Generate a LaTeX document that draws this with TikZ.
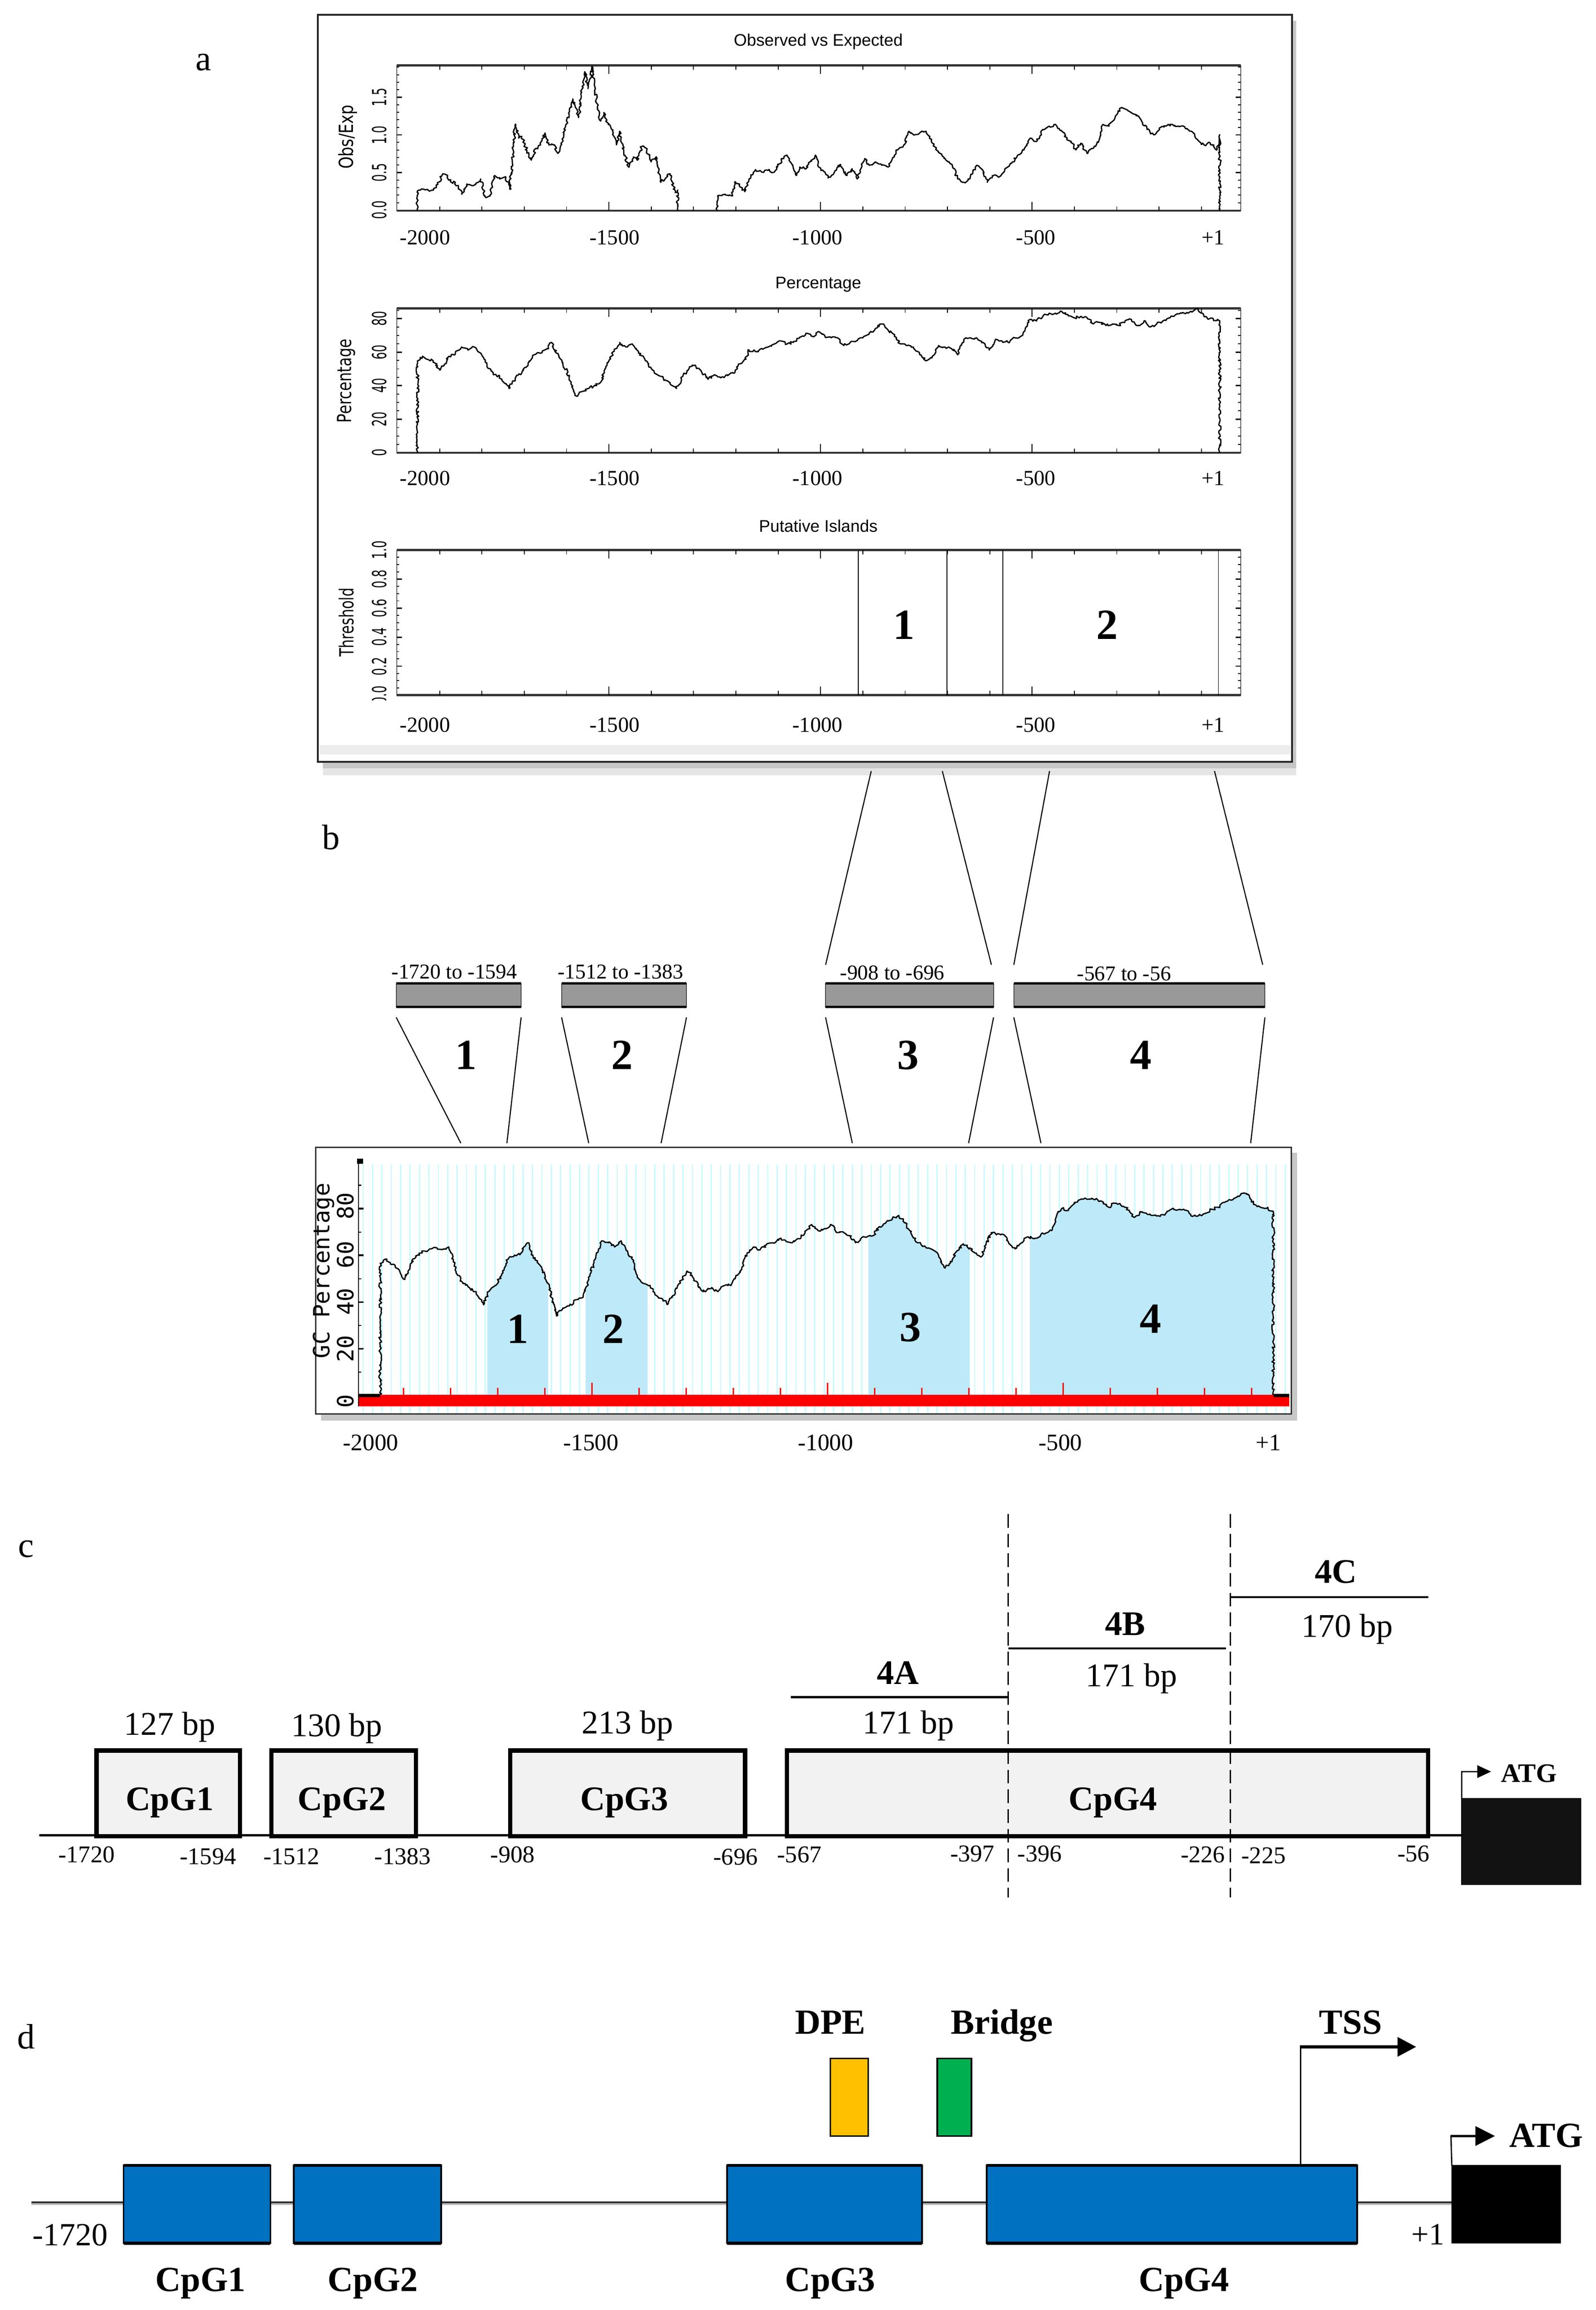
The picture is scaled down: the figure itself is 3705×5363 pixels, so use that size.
\documentclass[tikz,border=0pt]{standalone}
\usepackage{fontspec}
\setmainfont{Liberation Serif}
\setsansfont{Liberation Sans}
\newfontfamily\monofont{DejaVu Sans Mono}
\newfontfamily\dvsans{DejaVu Sans}
\usetikzlibrary{decorations.pathmorphing}
\newcommand\fpx[1]{\fontsize{\fpeval{#1*0.2845}pt}{\fpeval{#1*0.34}pt}\selectfont}
\def\u{0.2845pt}
\definecolor{cpgblue}{RGB}{0,112,192}
\definecolor{dpecol}{RGB}{255,192,0}
\definecolor{bridgecol}{RGB}{0,176,80}
\definecolor{islandfill}{RGB}{189,233,249}
\definecolor{cyanl}{RGB}{200,250,255}
\definecolor{boxgray}{RGB}{242,242,242}
\definecolor{bargray}{RGB}{153,153,153}
\pgfmathsetseed{7}
\tikzset{
  every node/.style={inner sep=0pt, outer sep=0pt},
  curvestyle/.style={line width=3*\u, line join=round, decorate, decoration={random steps, segment length=1.1pt, amplitude=0.9pt}},
  ticklabA/.style={anchor=base, font=\fpx{50}},
  ticklabB/.style={anchor=base, font=\fpx{55}},
  ylabA/.style={rotate=90, font=\dvsans\fpx{45}},
  titleA/.style={anchor=base, font=\sffamily\fpx{39}},
  bignum/.style={anchor=base, font=\bfseries\fpx{100}},
  panellab/.style={anchor=base, font=\fpx{82}},
  ccbox/.style={draw=black, fill=boxgray, line width=10*\u, minimum height=19.9mm},
  cbold/.style={anchor=base, font=\bfseries\fpx{80}},
  creg/.style={anchor=base, font=\fpx{77}},
  cpos/.style={anchor=base, font=\fpx{56}},
  dbox/.style={draw=black, fill=cpgblue, line width=4*\u, minimum height=18.1mm},
  dbold/.style={anchor=base, font=\bfseries\fpx{82}},
  graybar/.style={draw=black!70, fill=bargray, line width=2*\u, minimum height=5.5mm},
  barlab/.style={anchor=base, font=\fpx{49}},
  thinline/.style={line width=2.5*\u},
}
\begin{document}
\begin{tikzpicture}[x=0.1mm, y=-0.1mm]
\useasboundingbox (0,0) rectangle (3705,5363);
\fill[white] (0,0) rectangle (3705,5363);

% ================= panel a =================
\node[panellab] (la) at (472,164) {a};
\fill[black!22] (750,1769) rectangle (3010,1784);
\fill[black!10] (750,1784) rectangle (3010,1800);
\fill[black!22] (3000,48) rectangle (3010,1784);
\fill[black!7] (742,1730) rectangle (2996,1752);
\draw[line width=4*\u, black!85] (738,34) rectangle (3000,1769);

% plot frames
\foreach \yt/\yb in {152/489, 716/1051, 1277/1614} {
  \draw[line width=2*\u, black!60] (921,\yt) rectangle (2881,\yb);
  \draw[line width=5*\u, black!80] (921,\yt) -- (2881,\yt);
  \draw[line width=5*\u, black!80] (921,\yb) -- (2881,\yb);
  \foreach \k in {0,...,18} {
    \draw[line width=2*\u] ({1020.7+98.27*\k},\yt) -- ++(0,10);
    \draw[line width=2*\u] ({1020.7+98.27*\k},\yb) -- ++(0,-10);
  }
  \foreach \xx in {1413.8,1905,2396.5} {
    \draw[line width=2*\u] (\xx,\yt) -- ++(0,20);
    \draw[line width=2*\u] (\xx,\yb) -- ++(0,-20);
  }
}
% y ticks
\foreach \v in {1,...,19} {
  \draw[line width=2*\u] (921,{488-17.48*\v}) -- ++(6,0);
  \draw[line width=2*\u] (2881,{488-17.48*\v}) -- ++(-6,0);
}
\foreach \v in {5,10,15} {
  \draw[line width=3*\u] (921,{488-17.48*\v}) -- ++(12,0);
  \draw[line width=3*\u] (2881,{488-17.48*\v}) -- ++(-12,0);
}
\foreach \v in {1,...,17} {
  \draw[line width=2*\u] (921,{1051-19.45*\v}) -- ++(6,0);
  \draw[line width=2*\u] (2881,{1051-19.45*\v}) -- ++(-6,0);
}
\foreach \v in {4,8,12,16} {
  \draw[line width=3*\u] (921,{1051-19.45*\v}) -- ++(12,0);
  \draw[line width=3*\u] (2881,{1051-19.45*\v}) -- ++(-12,0);
}
\foreach \v in {1,...,19} {
  \draw[line width=2*\u] (921,{1614-16.85*\v}) -- ++(6,0);
  \draw[line width=2*\u] (2881,{1614-16.85*\v}) -- ++(-6,0);
}
\foreach \v in {4,8,12,16} {
  \draw[line width=3*\u] (921,{1614-16.85*\v}) -- ++(12,0);
  \draw[line width=3*\u] (2881,{1614-16.85*\v}) -- ++(-12,0);
}

% titles
\node[titleA] (t1) at (1900,107) {Observed vs Expected};
\node[titleA] (t2) at (1900,670) {Percentage};
\node[titleA] (t3) at (1900,1235) {Putative Islands};

% x tick labels
\foreach \lab/\xx [count=\i] in {-2000/987, -1500/1427, -1000/1898, -500/2405, +1/2817} {
  \node[ticklabA] (xa\i) at (\xx,568) {\lab};
  \node[ticklabA] (xb\i) at (\xx,1127) {\lab};
  \node[ticklabA] (xc\i) at (\xx,1700) {\lab};
}
% y labels
\node[ylabA] (yl1) at (808,318) {\scalebox{0.8}[1]{Obs/Exp}};
\node[ylabA] (yl2) at (804,884) {\scalebox{0.77}[1]{Percentage}};
\node[ylabA] (yl3) at (804,1445) {\scalebox{0.72}[1]{Threshold}};
\begin{scope}
  \clip (850,140) rectangle (915,508);
  \foreach \lab/\yy [count=\i] in {1.5/226, 1.0/314, 0.5/401, 0.0/488}
    \node[ylabA] (ya\i) at (881,\yy) {\scalebox{0.6}[1]{\lab}};
\end{scope}
\begin{scope}
  \clip (850,700) rectangle (915,1058);
  \foreach \lab/\yy [count=\i] in {80/740, 60/818, 40/895, 20/973, 0/1051}
    \node[ylabA] (yb\i) at (881,\yy) {\scalebox{0.6}[1]{\lab}};
\end{scope}
\begin{scope}
  \clip (850,1230) rectangle (915,1625);
  \foreach \lab/\yy [count=\i] in {1.0/1277, 0.8/1344, 0.6/1412, 0.4/1479, 0.2/1547, 0.0/1614}
    \node[ylabA] (yc\i) at (881,\yy) {\scalebox{0.6}[1]{\lab}};
\end{scope}

% Obs/Exp curve
\begin{scope}[shift={(720,20)}, xscale=1.4668, yscale=0.3954]
\draw[curvestyle] (170,1187) -- (170,1070) -- (175,1065) -- (190,1070) -- (200,1050) -- (210,970) -- (215,975) -- (222,1015) -- (230,1020) -- (240,1090) -- (248,1030) -- (258,1040) -- (270,1000) -- (278,1110) -- (285,1100) -- (292,980) -- (300,1000) -- (310,990) -- (316,1060) -- (320,900) -- (325,680) -- (330,760) -- (335,750) -- (343,830) -- (350,890) -- (358,820) -- (365,800) -- (372,730) -- (378,800) -- (385,800) -- (392,850) -- (400,780) -- (405,680) -- (410,620) -- (416,530) -- (420,580) -- (425,640) -- (430,490) -- (435,370) -- (440,470) -- (447,340) -- (450,450) -- (455,590) -- (460,660) -- (465,610) -- (472,680) -- (480,730) -- (485,800) -- (490,720) -- (498,860) -- (505,930) -- (512,870) -- (518,890) -- (525,810) -- (533,830) -- (540,900) -- (548,870) -- (555,1020) -- (565,980) -- (570,970) -- (578,1080) -- (582,1065) -- (582,1187);
\draw[curvestyle] (645,1187) -- (645,1100) -- (660,1095) -- (668,1100) -- (672,1020) -- (680,1030) -- (688,1075) -- (695,1000) -- (705,945) -- (715,960) -- (725,950) -- (735,960) -- (740,930) -- (750,870) -- (755,860) -- (760,900) -- (770,980) -- (775,930) -- (785,940) -- (800,860) -- (805,930) -- (815,960) -- (820,995) -- (830,960) -- (840,915) -- (850,980) -- (858,940) -- (866,1000) -- (878,880) -- (885,920) -- (895,900) -- (905,920) -- (915,930) -- (925,870) -- (930,830) -- (940,800) -- (948,720) -- (955,740) -- (965,730) -- (975,720) -- (985,790) -- (995,840) -- (1005,880) -- (1010,900) -- (1020,940) -- (1025,1000) -- (1035,1020) -- (1045,990) -- (1055,920) -- (1065,950) -- (1072,1020) -- (1080,980) -- (1090,990) -- (1100,940) -- (1110,910) -- (1120,860) -- (1130,830) -- (1140,760) -- (1150,780) -- (1160,710) -- (1170,690) -- (1180,680) -- (1190,720) -- (1198,770) -- (1205,780) -- (1212,830) -- (1220,790) -- (1230,850) -- (1240,820) -- (1250,760) -- (1255,680) -- (1265,690) -- (1275,630) -- (1285,580) -- (1295,600) -- (1305,620) -- (1315,650) -- (1325,710) -- (1335,740) -- (1345,700) -- (1355,690) -- (1365,680) -- (1375,690) -- (1385,700) -- (1395,720) -- (1405,770) -- (1415,800) -- (1425,790) -- (1435,830) -- (1440,740) -- (1440,1187);
\end{scope}

% Percentage curve
\begin{scope}[shift={(720,620)}, xscale=1.4668, yscale=0.357]
\draw[curvestyle] (170,1208) -- (170,610) -- (178,580) -- (185,600) -- (195,610) -- (205,670) -- (212,640) -- (220,580) -- (230,560) -- (240,520) -- (250,540) -- (260,520) -- (270,560) -- (280,640) -- (290,700) -- (300,710) -- (315,790) -- (325,720) -- (335,690) -- (345,640) -- (355,570) -- (365,560) -- (375,530) -- (382,490) -- (390,560) -- (400,620) -- (410,720) -- (422,840) -- (430,810) -- (440,790) -- (450,770) -- (460,750) -- (470,640) -- (480,550) -- (490,490) -- (500,520) -- (510,500) -- (520,560) -- (530,600) -- (540,660) -- (550,700) -- (565,740) -- (580,790) -- (590,710) -- (600,660) -- (608,640) -- (618,670) -- (630,730) -- (640,700) -- (650,720) -- (660,700) -- (670,690) -- (680,630) -- (690,600) -- (695,540) -- (705,550) -- (715,530) -- (725,520) -- (735,500) -- (745,480) -- (755,500) -- (765,490) -- (775,460) -- (785,430) -- (795,450) -- (805,420) -- (815,450) -- (825,460) -- (835,460) -- (845,510) -- (855,490) -- (865,480) -- (875,460) -- (885,430) -- (895,400) -- (905,370) -- (915,410) -- (925,450) -- (935,500) -- (945,510) -- (955,520) -- (965,570) -- (975,610) -- (985,580) -- (995,510) -- (1005,520) -- (1015,530) -- (1025,570) -- (1035,470) -- (1045,460) -- (1055,460) -- (1065,490) -- (1075,540) -- (1085,470) -- (1095,480) -- (1105,490) -- (1115,460) -- (1125,450) -- (1132,400) -- (1140,340) -- (1150,350) -- (1160,320) -- (1170,300) -- (1180,300) -- (1190,290) -- (1200,310) -- (1210,330) -- (1220,320) -- (1230,330) -- (1240,370) -- (1250,360) -- (1260,380) -- (1270,370) -- (1280,380) -- (1290,350) -- (1300,340) -- (1310,380) -- (1320,350) -- (1330,390) -- (1340,370) -- (1350,350) -- (1360,330) -- (1370,310) -- (1380,300) -- (1390,300) -- (1400,280) -- (1405,270) -- (1412,300) -- (1420,330) -- (1430,340) -- (1440,350) -- (1440,1208);
\end{scope}

% Putative islands
\foreach \xx in {1993,2199,2329,2829}
  \draw[line width=2*\u] (\xx,1277) -- (\xx,1614);
\node[bignum] (isl1) at (2099,1484) {1};
\node[bignum] (isl2) at (2571,1484) {2};

% ================= panel b =================
\node[panellab] (lb) at (769,1972) {b};
\coordinate (ca1) at (2023,1790);
\coordinate (ca2) at (2188,1790);
\coordinate (ca3) at (2437,1790);
\coordinate (ca4) at (2820,1790);
\coordinate (cb1) at (1917,2240);
\coordinate (cb2) at (2302,2240);
\coordinate (cb3) at (2354,2240);
\coordinate (cb4) at (2932,2240);
\foreach \i in {1,...,4} \draw[thinline] (ca\i) -- (cb\i);

\node[graybar, minimum width=29mm] (bar1) at (1065,2310.5) {};
\node[graybar, minimum width=29mm] (bar2) at (1449,2310.5) {};
\node[graybar, minimum width=39mm] (bar3) at (2112,2310.5) {};
\node[graybar, minimum width=58.3mm] (bar4) at (2645.5,2310.5) {};
\foreach \b in {bar1,bar2,bar3,bar4} {
  \draw[line width=5*\u] (\b.north west) -- (\b.north east);
  \draw[line width=5*\u] (\b.south west) -- (\b.south east);
}
\node[barlab] (bl1) at (1055,2272) {-1720 to -1594};
\node[barlab] (bl2) at (1441,2272) {-1512 to -1383};
\node[barlab] (bl3) at (2072,2274) {-908 to -696};
\node[barlab] (bl4) at (2610,2277) {-567 to -56};

\node[bignum] (n1) at (1082,2483) {1};
\node[bignum] (n2) at (1445,2483) {2};
\node[bignum] (n3) at (2109,2483) {3};
\node[bignum] (n4) at (2649,2483) {4};

\foreach \xt/\xb in {920/1070, 1210/1177, 1304/1367, 1594/1535, 1917/1979, 2307/2249, 2354/2417, 2937/2904}
  \draw[thinline] (\xt,2362) -- (\xb,2654);

% GC plot box
\fill[black!22] (745,3283) rectangle (3012,3298);
\fill[black!22] (2998,2676) rectangle (3012,3298);
\fill[white] (733,2664) rectangle (2998,3283);
\foreach \i in {0,...,98}
  \draw[cyanl, line width=3*\u] ({843+21.85*\i},2704) -- ++(0,578);
\begin{scope}[shift={(700,2640)}, xscale=1.4993, yscale=0.4719]
  \begin{scope}
    \clip (288,0) rectangle (382,1270) (440,0) rectangle (536,1270) (878,0) rectangle (1035,1270) (1128,0) rectangle (1505,1270);
    \fill[islandfill] (122,1268) -- (122,620) -- (130,600) -- (138,625) -- (145,630) -- (155,680) -- (160,700) -- (165,660) -- (172,600) -- (180,580) -- (190,560) -- (200,550) -- (210,545) -- (220,550) -- (228,540) -- (235,600) -- (242,680) -- (250,720) -- (260,740) -- (270,760) -- (275,790) -- (282,825) -- (290,760) -- (295,740) -- (300,730) -- (310,680) -- (320,600) -- (330,580) -- (340,570) -- (350,520) -- (355,560) -- (362,600) -- (372,640) -- (382,720) -- (390,820) -- (395,880) -- (405,840) -- (415,830) -- (425,800) -- (435,790) -- (445,700) -- (455,600) -- (465,510) -- (475,520) -- (485,540) -- (495,510) -- (505,560) -- (512,600) -- (520,680) -- (530,720) -- (540,730) -- (550,780) -- (560,800) -- (568,820) -- (575,780) -- (585,720) -- (598,660) -- (605,680) -- (615,740) -- (625,760) -- (635,740) -- (645,760) -- (655,730) -- (665,730) -- (675,680) -- (682,640) -- (690,570) -- (700,540) -- (710,555) -- (720,530) -- (730,520) -- (740,500) -- (750,510) -- (760,520) -- (770,500) -- (780,470) -- (790,430) -- (800,460) -- (810,450) -- (820,430) -- (830,470) -- (840,470) -- (850,490) -- (858,520) -- (866,500) -- (876,490) -- (885,485) -- (895,440) -- (905,420) -- (915,400) -- (925,385) -- (935,420) -- (945,480) -- (955,520) -- (965,535) -- (975,550) -- (985,570) -- (995,640) -- (1005,620) -- (1015,560) -- (1025,525) -- (1035,545) -- (1045,570) -- (1052,590) -- (1060,530) -- (1068,470) -- (1078,475) -- (1088,480) -- (1098,530) -- (1105,550) -- (1115,520) -- (1125,490) -- (1135,500) -- (1145,480) -- (1155,470) -- (1162,460) -- (1170,380) -- (1178,350) -- (1188,360) -- (1200,320) -- (1210,305) -- (1220,305) -- (1232,305) -- (1242,320) -- (1250,345) -- (1258,325) -- (1268,330) -- (1275,345) -- (1282,360) -- (1290,395) -- (1300,370) -- (1310,380) -- (1320,385) -- (1330,390) -- (1340,370) -- (1350,350) -- (1360,355) -- (1370,360) -- (1380,390) -- (1390,385) -- (1400,375) -- (1410,355) -- (1420,345) -- (1430,320) -- (1440,310) -- (1450,290) -- (1460,275) -- (1468,290) -- (1475,330) -- (1485,345) -- (1495,350) -- (1505,365) -- (1505,1268) -- cycle;
  \end{scope}
  \draw[curvestyle] (122,1268) -- (122,620) -- (130,600) -- (138,625) -- (145,630) -- (155,680) -- (160,700) -- (165,660) -- (172,600) -- (180,580) -- (190,560) -- (200,550) -- (210,545) -- (220,550) -- (228,540) -- (235,600) -- (242,680) -- (250,720) -- (260,740) -- (270,760) -- (275,790) -- (282,825) -- (290,760) -- (295,740) -- (300,730) -- (310,680) -- (320,600) -- (330,580) -- (340,570) -- (350,520) -- (355,560) -- (362,600) -- (372,640) -- (382,720) -- (390,820) -- (395,880) -- (405,840) -- (415,830) -- (425,800) -- (435,790) -- (445,700) -- (455,600) -- (465,510) -- (475,520) -- (485,540) -- (495,510) -- (505,560) -- (512,600) -- (520,680) -- (530,720) -- (540,730) -- (550,780) -- (560,800) -- (568,820) -- (575,780) -- (585,720) -- (598,660) -- (605,680) -- (615,740) -- (625,760) -- (635,740) -- (645,760) -- (655,730) -- (665,730) -- (675,680) -- (682,640) -- (690,570) -- (700,540) -- (710,555) -- (720,530) -- (730,520) -- (740,500) -- (750,510) -- (760,520) -- (770,500) -- (780,470) -- (790,430) -- (800,460) -- (810,450) -- (820,430) -- (830,470) -- (840,470) -- (850,490) -- (858,520) -- (866,500) -- (876,490) -- (885,485) -- (895,440) -- (905,420) -- (915,400) -- (925,385) -- (935,420) -- (945,480) -- (955,520) -- (965,535) -- (975,550) -- (985,570) -- (995,640) -- (1005,620) -- (1015,560) -- (1025,525) -- (1035,545) -- (1045,570) -- (1052,590) -- (1060,530) -- (1068,470) -- (1078,475) -- (1088,480) -- (1098,530) -- (1105,550) -- (1115,520) -- (1125,490) -- (1135,500) -- (1145,480) -- (1155,470) -- (1162,460) -- (1170,380) -- (1178,350) -- (1188,360) -- (1200,320) -- (1210,305) -- (1220,305) -- (1232,305) -- (1242,320) -- (1250,345) -- (1258,325) -- (1268,330) -- (1275,345) -- (1282,360) -- (1290,395) -- (1300,370) -- (1310,380) -- (1320,385) -- (1330,390) -- (1340,370) -- (1350,350) -- (1360,355) -- (1370,360) -- (1380,390) -- (1390,385) -- (1400,375) -- (1410,355) -- (1420,345) -- (1430,320) -- (1440,310) -- (1450,290) -- (1460,275) -- (1468,290) -- (1475,330) -- (1485,345) -- (1495,350) -- (1505,365) -- (1505,1268);
\end{scope}
% red bar
\fill[red] (832,3238) rectangle (2994,3265);
\fill[black] (832,3236) rectangle (883,3243);
\fill[black] (2957,3236) rectangle (2994,3243);
\foreach \k in {0,...,18}
  \draw[red, line width=2.5*\u] ({937+109.4*\k},3238) -- ++(0,-16);
\foreach \xx in {1374.6,1921.6,2468.6}
  \draw[red, line width=2.5*\u] (\xx,3238) -- ++(0,-28);
\node[bignum] (bn1) at (1202,3119) {1};
\node[bignum] (bn2) at (1424,3119) {2};
\node[bignum] (bn3) at (2114,3114) {3};
\node[bignum] (bn4) at (2672,3095) {4};
% GC axis
\draw[line width=2.5*\u] (832,2694) -- (832,3265);
\fill (829,2690) rectangle (843,2702);
\foreach \p in {10,30,50,70,90}
  \draw[line width=2.5*\u] (832,{3240-5.425*\p}) -- ++(7,0);
\foreach \p in {20,40,60,80}
  \draw[line width=4*\u] (832,{3240-5.425*\p}) -- ++(12,0);
\draw[line width=3*\u, black!80] (733,2664) rectangle (2998,3283);
\foreach \lab/\yy [count=\i] in {0/3253, 20/3131, 40/3022, 60/2913, 80/2800}
  \node[rotate=90, font=\monofont\fpx{52}] (gy\i) at (802,\yy) {\lab};
\node[rotate=90, font=\monofont\fpx{52}] (gcl) at (752,2950) {GC Percentage};
\foreach \lab/\xx [count=\i] in {-2000/861, -1500/1372, -1000/1917, -500/2462, +1/2945}
  \node[ticklabB] (xg\i) at (\xx,3367) {\lab};

% ================= panel c =================
\node[panellab] (lc) at (61,3615) {c};
\draw[line width=5*\u] (91,4261) -- (3394,4261);
\node[ccbox, minimum width=33.3mm] (c1) at (390.5,4163.5) {};
\node[ccbox, minimum width=33.6mm] (c2) at (798,4163.5) {};
\node[ccbox, minimum width=54.5mm] (c3) at (1457.5,4163.5) {};
\node[ccbox, minimum width=148.9mm] (c4) at (2571.5,4163.5) {};
\node[draw=black, fill=black!93, line width=2*\u, minimum width=27.7mm, minimum height=19.9mm] (catg) at (3532.5,4275.5) {};
\draw[line width=3*\u, dash pattern=on 9pt off 4pt] (2341,3515) -- (2341,4405);
\draw[line width=3*\u, dash pattern=on 9pt off 4pt] (2857,3515) -- (2857,4405);
\draw[line width=5*\u] (1836,3940) -- (2341,3940);
\draw[line width=5*\u] (2341,3827) -- (2847,3827);
\draw[line width=5*\u] (2855,3708) -- (3316,3708);
\node[cbold] (c1l) at (394,4203) {CpG1};
\node[cbold] (c2l) at (794,4203) {CpG2};
\node[cbold] (c3l) at (1450,4203) {CpG3};
\node[cbold] (c4l) at (2584,4203) {CpG4};
\node[creg] (c1b) at (394,4028) {127 bp};
\node[creg] (c2b) at (782,4031) {130 bp};
\node[creg] (c3b) at (1457,4025) {213 bp};
\node[cbold] (c4a) at (2085,3910) {4A};
\node[creg] (c4ab) at (2109,4025) {171 bp};
\node[cbold] (c4b) at (2613,3796) {4B};
\node[creg] (c4bb) at (2627,3916) {171 bp};
\node[cbold] (c4c) at (3102,3675) {4C};
\node[creg] (c4cb) at (3128,3801) {170 bp};
\foreach \lab/\xx/\yy [count=\i] in {-1720/201/4324, -1594/483/4328, -1512/677/4328, -1383/935/4328, -908/1190/4324, -696/1708/4330, -567/1856/4324, -397/2258/4322, -396/2414/4322, -226/2793/4324, -225/2934/4326, -56/3282/4322}
  \node[cpos] (cp\i) at (\xx,\yy) {\lab};
\coordinate (catgtop) at (catg.north west);
\coordinate (catgturn) at (3394,4113);
\coordinate (catghead) at (3462,4113);
\draw[line width=3*\u] (catgtop) -- (catgturn) -- (3432,4113);
\fill (3430,4098) -- (catghead) -- (3430,4128) -- cycle;
\node[anchor=base, font=\bfseries\fpx{62}] (catgl) at (3550,4137) {ATG};

% ================= panel d =================
\node[panellab] (ld) at (61,4756) {d};
\draw[line width=6*\u, black!25] (73,5116) -- (3371,5116);
\draw[line width=4*\u, black!80] (73,5113) -- (3371,5113);
\node[dbox, minimum width=34.1mm] (d1) at (457.5,5117.5) {};
\node[dbox, minimum width=34.2mm] (d2) at (853,5117.5) {};
\node[dbox, minimum width=45.3mm] (d3) at (1914.5,5117.5) {};
\node[dbox, minimum width=86mm] (d4) at (2721,5117.5) {};
\foreach \b in {d1,d2,d3,d4} {
  \draw[line width=7*\u] (\b.north west) -- (\b.north east);
  \draw[line width=7*\u] (\b.south west) -- (\b.south east);
}
\node[draw=black, fill=black, minimum width=25.3mm, minimum height=18.1mm] (datg) at (3497.5,5117.5) {};
\node[draw=black, fill=dpecol, line width=4*\u, minimum width=8.8mm, minimum height=18mm] (dpe) at (1972,4869) {};
\node[draw=black, fill=bridgecol, line width=4*\u, minimum width=8mm, minimum height=18mm] (brg) at (2216,4869) {};
\node[dbold] (dpel) at (1928,4722) {DPE};
\node[dbold] (brgl) at (2326,4722) {Bridge};
\node[dbold] (tssl) at (3136,4722) {TSS};
\node[dbold] (datgl) at (3590,4985) {ATG};
\node[dbold] (d1l) at (466,5320) {CpG1};
\node[dbold] (d2l) at (866,5320) {CpG2};
\node[dbold] (d3l) at (1928,5320) {CpG3};
\node[dbold] (d4l) at (2749,5320) {CpG4};
\node[anchor=base, font=\fpx{75}] (dm) at (163,5213) {-1720};
\node[anchor=base, font=\fpx{72}] (dp) at (3316,5211) {+1};
% TSS arrow
\coordinate (tssfoot) at (3020,5027);
\coordinate (tsscorner) at (3020,4752);
\draw[line width=3*\u] (tssfoot) -- (tsscorner);
\draw[line width=8*\u] (3018.5,4752) -- (3250,4752);
\fill (3245,4729) -- (3288,4752) -- (3245,4775) -- cycle;
% ATG arrow d
\coordinate (dafoot) at (datg.north west);
\coordinate (dacorner) at (3369,4959);
\draw[line width=3*\u] (dafoot) -- (dacorner);
\draw[line width=6*\u] (3367.5,4959) -- (3430,4959);
\fill (3426,4936) -- (3471,4959) -- (3426,4982) -- cycle;
\end{tikzpicture}
\end{document}
